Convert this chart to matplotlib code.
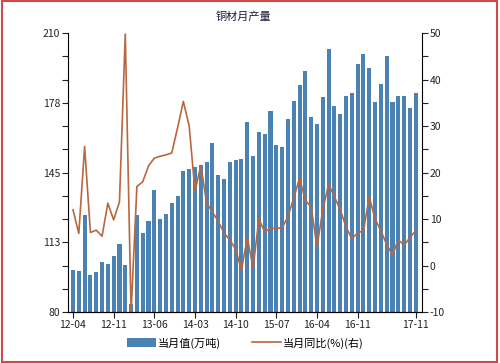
import numpy as np
import matplotlib
matplotlib.use("Agg")
import matplotlib.pyplot as plt
from matplotlib.patches import Patch, Rectangle
from matplotlib.lines import Line2D

plt.rcParams['font.family'] = ['Noto Sans CJK SC', 'DejaVu Sans']

# monthly output (10k tons), left axis
output = [99.4, 99, 125.4, 97.1, 98.5, 103.5, 102.2, 106.1, 111.7, 102,
          83.7, 125.3, 117, 122.4, 137, 123.3, 125.5, 130.6, 134.2, 145.6,
          146.5, 147.5, 148.6, 149.7, 158.8, 144, 142, 149.8, 151, 151.5,
          168.4, 152.5, 163.9, 163, 173.6, 157.6, 156.7, 170, 178.2, 185.9,
          192.4, 171, 167.7, 180, 202.4, 176, 172.3, 180.8, 181.9, 195.6,
          200.2, 193.5, 177.7, 186.1, 199.3, 177.8, 180.6, 180.8, 174.9, 181.9]
# year-on-year change (%), right axis
yoy = [12, 6.9, 25.6, 7.1, 7.6, 6.3, 13.4, 9.8, 13.7, 49.8,
       -10, 17, 18, 21.4, 23.1, 23.5, 23.8, 24.2, 29.6, 35.3,
       30, 16, 21.5, 13.5, 11.5, 9.5, 7, 5.5, 3.5, -1,
       6, -0.5, 10, 7.2, 8, 8, 8.1, 10.5, 14.5, 18.8,
       14, 12.6, 4, 12, 17.5, 14.8, 12, 8.3, 5.8, 7,
       7.5, 14.8, 10, 7.5, 4.5, 2.3, 5.5, 4.4, 6, 7.5]
tick_idx = [0, 7, 14, 21, 28, 35, 42, 49, 59]
tick_labels = ['12-04', '12-11', '13-06', '14-03', '14-10', '15-07', '16-04', '16-11', '17-11']

bar_color = '#4a82b4'
line_color = '#b8673f'

fig = plt.figure(figsize=(5, 3.63), dpi=100)
ax = fig.add_axes([0.136, 0.1405, 0.708, 0.7685])
x = np.arange(len(output))
ax.bar(x, output, width=0.7, color=bar_color)
ax.set_xlim(-0.86, 60.08)
ax.set_ylim(80, 210)

left_ticks = np.linspace(80, 210, 13)
ax.set_yticks(left_ticks)
ax.set_yticklabels([str(int(round(v + 0.01))) if i % 3 == 0 else '' for i, v in enumerate(left_ticks)])
ax.set_xticks(tick_idx)
ax.set_xticklabels(tick_labels)
ax.tick_params(axis='both', direction='out', length=4, width=0.8, labelsize=7.5, pad=1.5, colors='#222222')
ax.spines['top'].set_visible(False)
ax.spines['right'].set_visible(False)

ax2 = ax.twinx()
ax2.plot(x, yoy, color=line_color, lw=1.2)
ax2.set_ylim(-10, 50)
right_ticks = np.arange(-10, 51, 5)
ax2.set_yticks(right_ticks)
ax2.set_yticklabels([str(v) if v % 10 == 0 else '' for v in right_ticks])
ax2.tick_params(axis='y', direction='out', length=4, width=0.8, labelsize=7.5, pad=1.5, colors='#222222')
ax2.spines['top'].set_visible(False)
ax2.spines['left'].set_visible(False)

fig.text(0.486, 0.953, '铜材月产量', ha='center', va='center', fontsize=8, color='#1a1a3a')

handles = [Patch(facecolor=bar_color, edgecolor='none'), Line2D([], [], color=line_color, lw=1.2)]
fig.legend(handles, ['当月值(万吨)', '当月同比(%)(右)'], loc='center', bbox_to_anchor=(0.49, 0.055),
           ncol=2, frameon=False, fontsize=8, handlelength=2.6, handleheight=0.9, columnspacing=2.8,
           handletextpad=0.15)

fig.patches.append(Rectangle((0.003, 0.004), 0.991, 0.992, transform=fig.transFigure,
                             fill=False, edgecolor='#d0494a', lw=1.5))

fig.savefig('out.png', dpi=100)
